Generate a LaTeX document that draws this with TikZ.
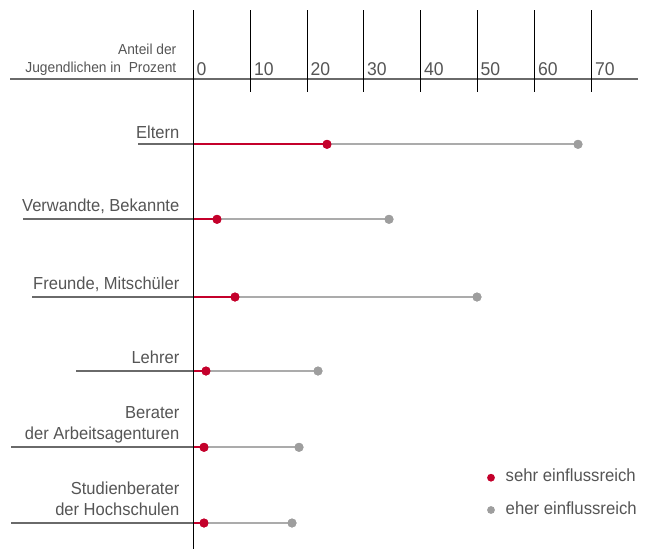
\documentclass[tikz,border=0pt]{standalone}
\usepackage{fontspec}
\setmainfont[FakeStretch=0.95]{Liberation Sans}
\definecolor{txt}{HTML}{555555}
\definecolor{lead}{HTML}{6A6A6A}
\definecolor{rd}{HTML}{C4002B}
\definecolor{gr}{HTML}{9E9E9E}
\definecolor{grl}{HTML}{ABABAB}
\tikzset{
  lbl/.style={anchor=base east, text=txt, font=\fontsize{17.4}{21}\selectfont, inner sep=0pt},
  ticklbl/.style={anchor=base west, text=txt, font=\fontsize{18.5}{21}\selectfont, inner sep=0pt},
  ttl/.style={anchor=base east, text=txt, font=\fontsize{14.5}{17}\selectfont, inner sep=0pt},
  leg/.style={anchor=base west, text=txt, font=\fontsize{17.6}{21}\selectfont, inner sep=0pt},
  reddot/.style={circle, fill=rd, inner sep=0pt, minimum size=9pt},
  graydot/.style={circle, fill=gr, inner sep=0pt, minimum size=9pt},
  leadline/.style={draw=lead, line width=2.2pt},
  redline/.style={draw=rd, line width=2pt},
  grayline/.style={draw=grl, line width=2.2pt},
  tickline/.style={draw=black, line width=0.9pt},
}
\begin{document}
\begin{tikzpicture}[x=1pt,y=-1pt]
\useasboundingbox (0,0) rectangle (650,549);
% axis
\coordinate (axtop) at (193,10);
\coordinate (axbot) at (193,549);
\coordinate (hl) at (10,79);
\coordinate (hr) at (638,79);
\draw[draw=lead, line width=1.8pt] (hl) -- (hr);
\foreach \i/\x in {1/250.5,2/307,3/363.5,4/420.5,5/477,6/534.5,7/591.5}{
  \coordinate (t\i a) at (\x,10);
  \coordinate (t\i b) at (\x,92);
  \draw[tickline] (t\i a) -- (t\i b);
}
\foreach \x/\v in {193/0,250.5/10,307/20,363.5/30,420.5/40,477/50,534.5/60,591.5/70}{
  \node[ticklbl] (tl\v) at (\x+3.5,75) {\v};
}
\node[ttl] (ttl1) at (176.5,54) {Anteil der};
\node[ttl] (ttl2) at (176.5,72.5) {Jugendlichen in\ \ Prozent};
% rows: start x, y, red x, gray x
\foreach \n/\sx/\y/\rx/\gx in {1/138/144.3/327/578, 2/23/219.3/217/389, 3/32/297/235/477, 4/76/371/206/318, 5/11/447.3/204/299, 6/11/523/204/292}{
  \coordinate (s\n) at (\sx,\y);
  \coordinate (a\n) at (193,\y);
  \node[reddot] (r\n) at (\rx,\y) {};
  \node[graydot] (g\n) at (\gx,\y) {};
  \draw[leadline] (s\n) -- (a\n);
  \draw[grayline] (r\n.center) -- (g\n.center);
  \draw[redline] (a\n) -- (r\n.center);
  \node[reddot] at (r\n) {};
  \node[graydot] at (g\n) {};
}
\draw[tickline] (axtop) -- (axbot);
\node[lbl] (l1) at (179.5,138) {Eltern};
\node[lbl] (l2) at (179.5,211) {Verwandte, Bekannte};
\node[lbl] (l3) at (179.5,289) {Freunde, Mitschüler};
\node[lbl] (l4) at (179.5,363) {Lehrer};
\node[lbl] (l5a) at (179.5,418) {Berater};
\node[lbl] (l5b) at (179.5,439.5) {der Arbeitsagenturen};
\node[lbl] (l6a) at (179.5,494) {Studienberater};
\node[lbl] (l6b) at (179.5,515.5) {der Hochschulen};
% legend
\node[reddot, minimum size=7.8pt] (kr) at (491,477.7) {};
\node[graydot, minimum size=7.8pt] (kg) at (491,510) {};
\node[leg] (kt1) at (505.5,481.7) {sehr einflussreich};
\node[leg] (kt2) at (505.5,514) {eher einflussreich};
\end{tikzpicture}
\end{document}
